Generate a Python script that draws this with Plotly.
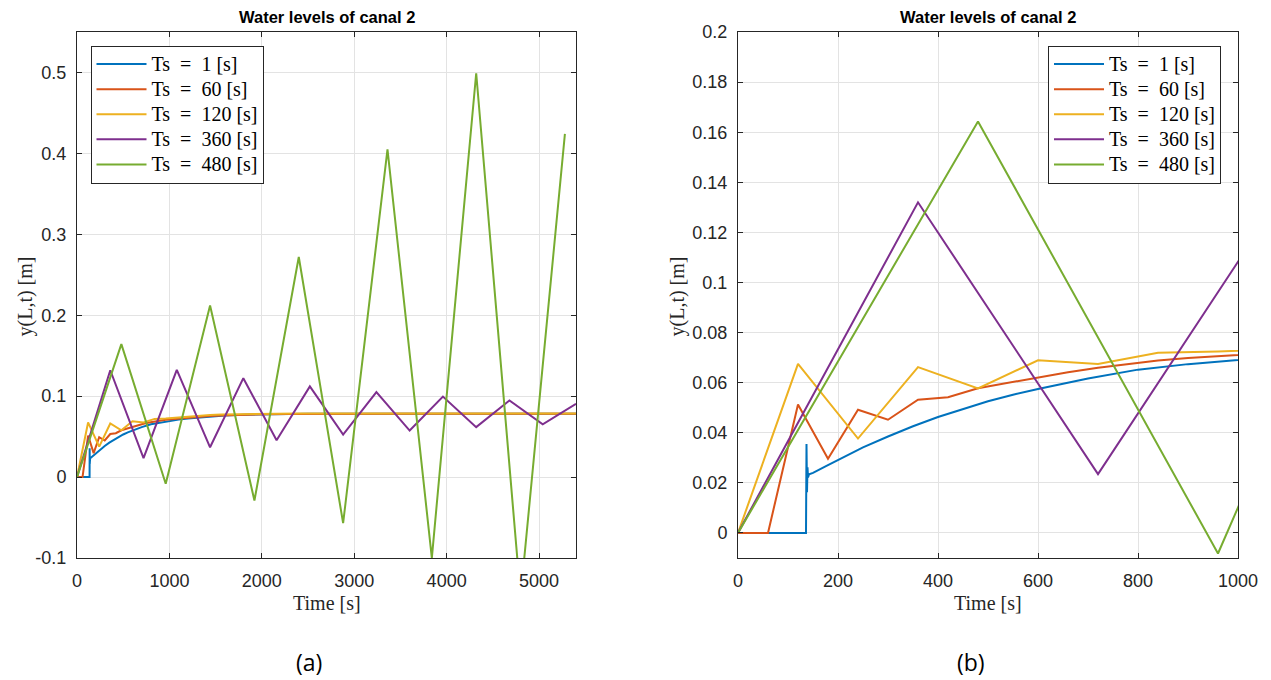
import plotly.graph_objects as go

# ---------------- data ----------------
series_names = ["Ts\u2002=\u20021 [s]", "Ts\u2002=\u200260 [s]", "Ts\u2002=\u2002120 [s]",
                "Ts\u2002=\u2002360 [s]", "Ts\u2002=\u2002480 [s]"]
series_colors = ["#0072BD", "#D95319", "#EDB120", "#7E2F8E", "#77AC30"]

t_ts1 = [0, 136, 137, 138, 139, 140, 142, 150, 175, 200, 250, 300, 350, 400, 450, 500, 550,
         600, 700, 800, 900, 1000, 1100, 1200, 1400, 1600, 1800, 2000, 2250, 2500, 3000,
         3500, 4000, 5400]
y_ts1 = [0, 0, 0.0355, 0.0163, 0.0262, 0.0222, 0.0234, 0.0240, 0.0266, 0.0292, 0.0342,
         0.0385, 0.0426, 0.0463, 0.0496, 0.0526, 0.0552, 0.0575, 0.0617, 0.0652, 0.0674,
         0.0692, 0.0710, 0.0724, 0.0745, 0.0760, 0.0770, 0.0776, 0.0780, 0.0782, 0.0783,
         0.0784, 0.0784, 0.0784]

t_ts60 = [0, 60, 120, 180, 240, 300, 360, 420, 480, 540, 600, 660, 720, 780, 840, 900, 960,
          1020, 1080, 1200, 1320, 1440, 1560, 1680, 1800, 2040, 2280, 2520, 3000, 3600,
          4200, 4800, 5400]
y_ts60 = [0, 0, 0.0513, 0.0296, 0.0492, 0.0452, 0.0532, 0.0542, 0.0578, 0.0600, 0.0622,
          0.0642, 0.0660, 0.0675, 0.0688, 0.0698, 0.0707, 0.0715, 0.0722, 0.0735, 0.0746,
          0.0755, 0.0762, 0.0768, 0.0772, 0.0777, 0.0780, 0.0782, 0.0783, 0.0784, 0.0784,
          0.0784, 0.0784]

t_ts120 = [0, 120, 240, 360, 480, 600, 720, 840, 960, 1080, 1200, 1320, 1440, 1560, 1680,
           1800, 1920, 2160, 2400, 2880, 3600, 4320, 5040, 5400]
y_ts120 = [0, 0.0675, 0.0377, 0.0662, 0.0577, 0.0689, 0.0675, 0.0719, 0.0724, 0.0736,
           0.0750, 0.0760, 0.0767, 0.0773, 0.0777, 0.0780, 0.0782, 0.0784, 0.0785, 0.0785,
           0.0785, 0.0785, 0.0785, 0.0785]

t_ts360 = [0, 360, 720, 1080, 1440, 1800, 2160, 2520, 2880, 3240, 3600, 3960, 4320, 4680,
           5040, 5400]
y_ts360 = [0, 0.1320, 0.0235, 0.1325, 0.0368, 0.1222, 0.0455, 0.1120, 0.0525, 0.1050,
           0.0575, 0.0995, 0.0617, 0.0947, 0.0653, 0.0905]

t_ts480 = [0, 480, 960, 1440, 1920, 2400, 2880, 3360, 3840, 4320, 4800, 5280]
y_ts480 = [0, 0.1643, -0.0082, 0.2120, -0.0290, 0.2720, -0.0570, 0.4050, -0.1000, 0.4990,
           -0.1480, 0.4240]

ticks_a_x = [0, 1000, 2000, 3000, 4000, 5000]
ticks_a_y = [-0.1, 0, 0.1, 0.2, 0.3, 0.4, 0.5]
ticktext_a_y = ["-0.1", "0", "0.1", "0.2", "0.3", "0.4", "0.5"]
ticks_b_x = [0, 200, 400, 600, 800, 1000]
ticks_b_y = [0, 0.02, 0.04, 0.06, 0.08, 0.1, 0.12, 0.14, 0.16, 0.18, 0.2]
ticktext_b_y = ["0", "0.02", "0.04", "0.06", "0.08", "0.1", "0.12", "0.14", "0.16", "0.18", "0.2"]

title_text = "Water levels of canal 2"
xlabel_text = "Time [s]"
ylabel_text = "y(L,t) [m]"
panel_labels = ["(a)", "(b)"]

# ---------------- figure ----------------
W, H = 1271, 680
all_t = [t_ts1, t_ts60, t_ts120, t_ts360, t_ts480]
all_y = [y_ts1, y_ts60, y_ts120, y_ts360, y_ts480]

fig = go.Figure()
for panel, (xa, ya, lg) in enumerate([("x", "y", "legend"), ("x2", "y2", "legend2")]):
    for name, col, tt, yy in zip(series_names, series_colors, all_t, all_y):
        fig.add_trace(go.Scatter(x=tt, y=yy, mode="lines",
                                 name='<span style="font-size:20px">' + name + '</span>',
                                 line=dict(color=col, width=2),
                                 xaxis=xa, yaxis=ya, legend=lg, showlegend=True))

def px_x(p):
    return p / W

def px_y(p):
    return 1 - p / H

axis_common = dict(showline=True, linecolor="#262626", linewidth=1, mirror="ticks",
                   ticks="inside", ticklen=5, tickcolor="#262626", automargin=False,
                   showgrid=True, gridcolor="#e3e3e3", gridwidth=1, zeroline=False,
                   tickfont=dict(family="Liberation Sans, Arial, sans-serif", size=18,
                                 color="#262626"))

dom_a = [px_x(77), px_x(576)]
dom_b = [px_x(738), px_x(1238)]
dom_y = [px_y(558), px_y(32)]

legend_common = dict(bgcolor="white", bordercolor="#262626", borderwidth=1,
                     font=dict(family="Liberation Serif, Times New Roman, serif", size=17,
                               color="black"),
                     xanchor="left", yanchor="top", tracegroupgap=0, itemwidth=50)

fig.update_layout(
    width=W, height=H, margin=dict(l=0, r=0, t=0, b=0, autoexpand=False),
    paper_bgcolor="white", plot_bgcolor="white",
    xaxis=dict(domain=dom_a, range=[0, 5400], tickvals=ticks_a_x, anchor="y",
               ticklabelstandoff=6, **axis_common),
    yaxis=dict(domain=dom_y, range=[-0.1, 0.55], tickvals=ticks_a_y, ticktext=ticktext_a_y,
               anchor="x", ticklabelstandoff=6, **axis_common),
    xaxis2=dict(domain=dom_b, range=[0, 1000], tickvals=ticks_b_x, anchor="y2",
                ticklabelstandoff=6, **axis_common),
    yaxis2=dict(domain=dom_y, range=[-0.01, 0.2], tickvals=ticks_b_y, ticktext=ticktext_b_y,
                anchor="x2", ticklabelstandoff=6, **axis_common),
    legend=dict(x=px_x(90.5), y=px_y(45.5), **legend_common),
    legend2=dict(x=px_x(1048), y=px_y(45.5), **legend_common),
    showlegend=True,
)

ann = []
for dom, lab, ylab_x, lab_x in [(dom_a, panel_labels[0], 24.5, 309), (dom_b, panel_labels[1], 676.5, 971)]:
    cx = (dom[0] + dom[1]) / 2
    ann.append(dict(x=cx, y=px_y(17), xref="paper", yref="paper", text="<b>" + title_text + "</b>",
                    showarrow=False, xanchor="center", yanchor="middle",
                    font=dict(family="Liberation Sans, Arial, sans-serif", size=16.5, color="black")))
    ann.append(dict(x=cx, y=px_y(603), xref="paper", yref="paper", text=xlabel_text,
                    showarrow=False, xanchor="center", yanchor="middle",
                    font=dict(family="Liberation Serif, Times New Roman, serif", size=20,
                              color="#262626")))
    ann.append(dict(x=px_x(ylab_x), y=px_y(297), xref="paper", yref="paper", text=ylabel_text,
                    showarrow=False, xanchor="center", yanchor="middle", textangle=-90,
                    font=dict(family="Liberation Serif, Times New Roman, serif", size=20,
                              color="#262626")))
    ann.append(dict(x=px_x(lab_x), y=px_y(662), xref="paper", yref="paper", text=lab,
                    showarrow=False, xanchor="center", yanchor="middle",
                    font=dict(family="Open Sans, Noto Sans, sans-serif", size=23, color="black")))
fig.update_layout(annotations=ann)

fig.write_html("out.html")
